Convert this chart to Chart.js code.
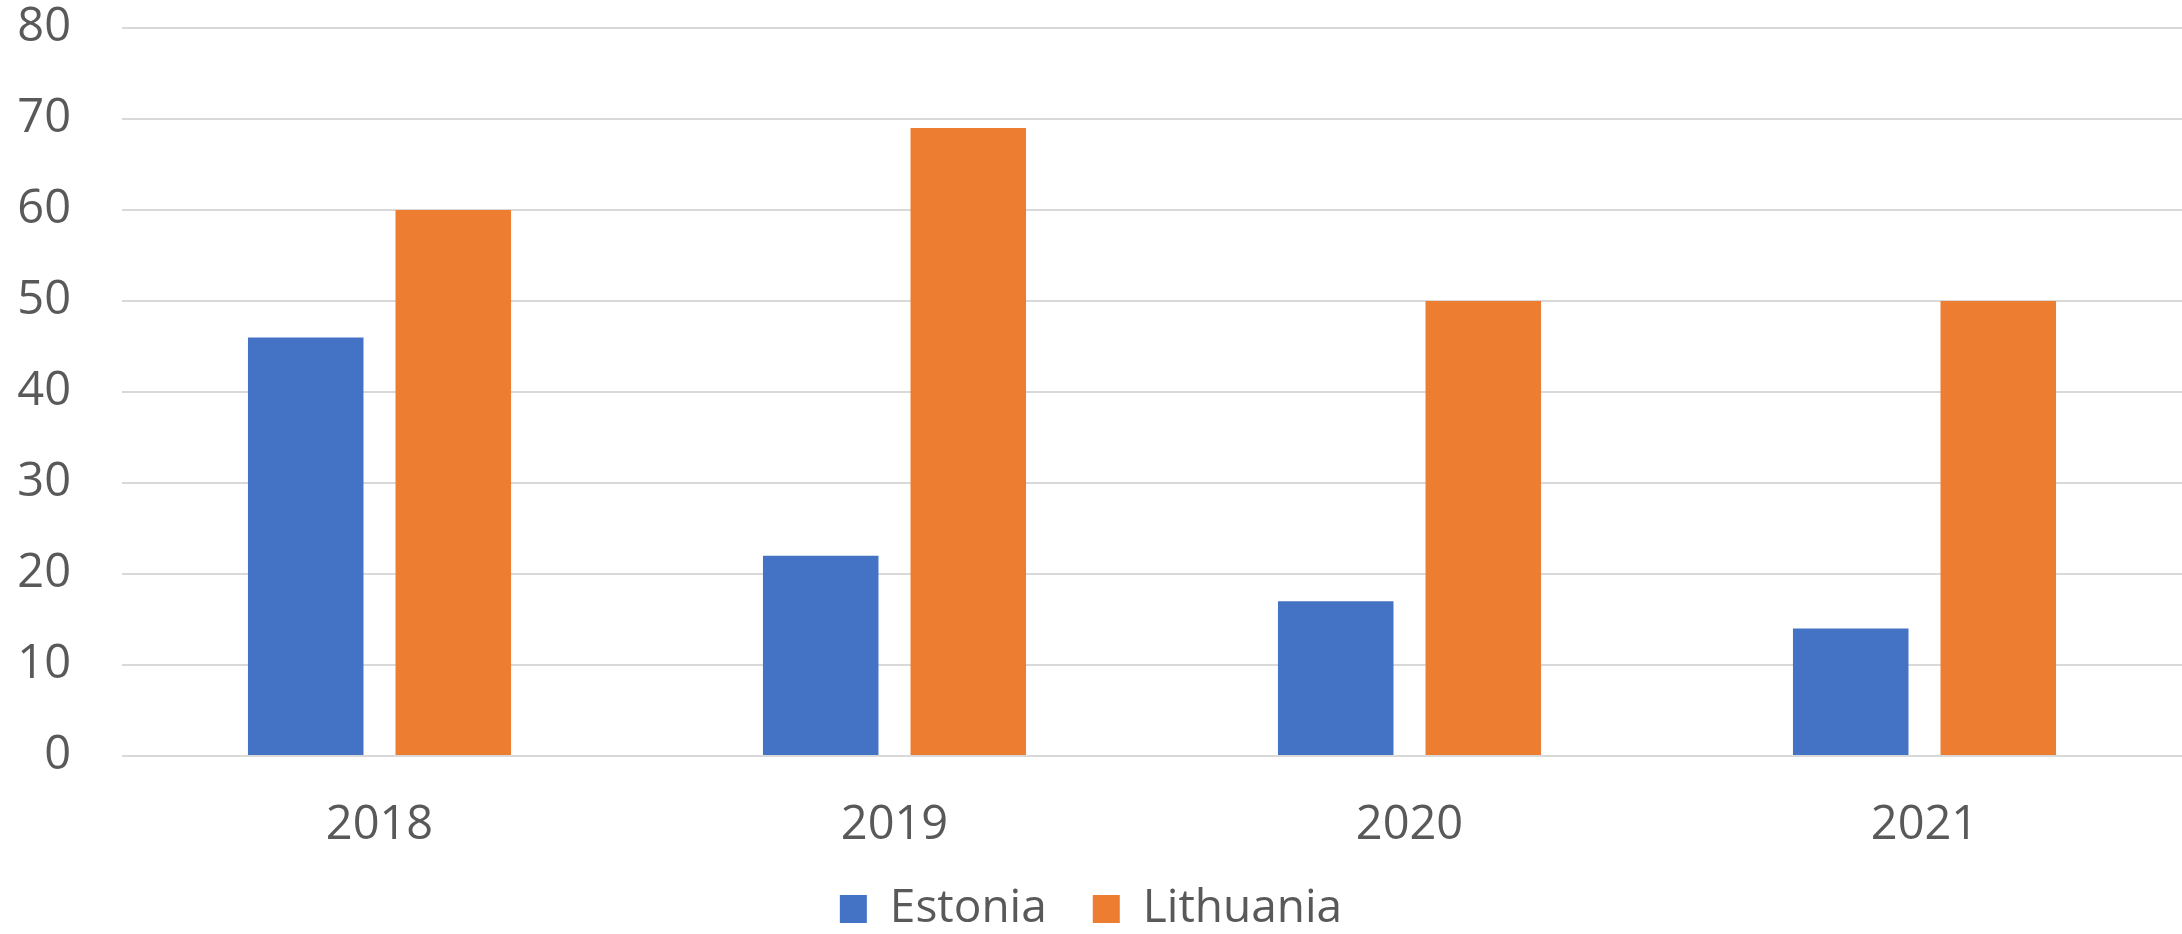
<!DOCTYPE html>
<html>
<head>
<meta charset="utf-8">
<script src="https://cdn.jsdelivr.net/npm/chart.js@4"></script>
<style>
  html, body { margin: 0; padding: 0; background: #fff; }
  #wrap { width: 2182px; height: 934px; }
</style>
</head>
<body>
<div id="wrap"><canvas id="barChart" width="2182" height="934"></canvas></div>
<script>
const years = ['2018', '2019', '2020', '2021'];
const estonia = [46, 22, 17, 14];
const lithuania = [60, 69, 50, 50];
const yTicks = [0, 10, 20, 30, 40, 50, 60, 70, 80];

const textColor = '#595959';
const fontFamily = "'Open Sans', 'Liberation Sans', sans-serif";

const ctx = document.getElementById('barChart').getContext('2d');
new Chart(ctx, {
    type: 'bar',
    data: {
        labels: years,
        datasets: [
            { label: 'Estonia', data: estonia, backgroundColor: '#4472C4' },
            { label: 'Lithuania', data: lithuania, backgroundColor: '#ED7D31' }
        ]
    },
    options: {
        responsive: false,
        animation: false,
        layout: { padding: { top: 0, left: 0, right: 0, bottom: -8 } },
        datasets: {
            bar: { categoryPercentage: 0.573, barPercentage: 0.783 }
        },
        scales: {
            y: {
                min: yTicks[0],
                max: yTicks[yTicks.length - 1],
                afterBuildTicks: axis => { axis.ticks = yTicks.map(v => ({ value: v })); },
                afterFit: axis => { axis.width = 122; axis.paddingTop = 28; },
                border: { display: false },
                grid: { color: '#D9D9D9', lineWidth: 2, drawTicks: false },
                ticks: { color: textColor, padding: 51, font: { family: fontFamily, size: 47 } }
            },
            x: {
                afterFit: axis => { axis.height = 84; },
                border: { display: false },
                grid: { display: false, drawTicks: false },
                ticks: { color: textColor, padding: 41, font: { family: fontFamily, size: 47 } }
            }
        },
        plugins: {
            tooltip: { enabled: false },
            legend: {
                position: 'bottom',
                labels: {
                    color: textColor,
                    boxWidth: 27,
                    boxHeight: 28,
                    padding: 46,
                    font: { family: fontFamily, size: 46 }
                }
            }
        }
    }
});
</script>
</body>
</html>
